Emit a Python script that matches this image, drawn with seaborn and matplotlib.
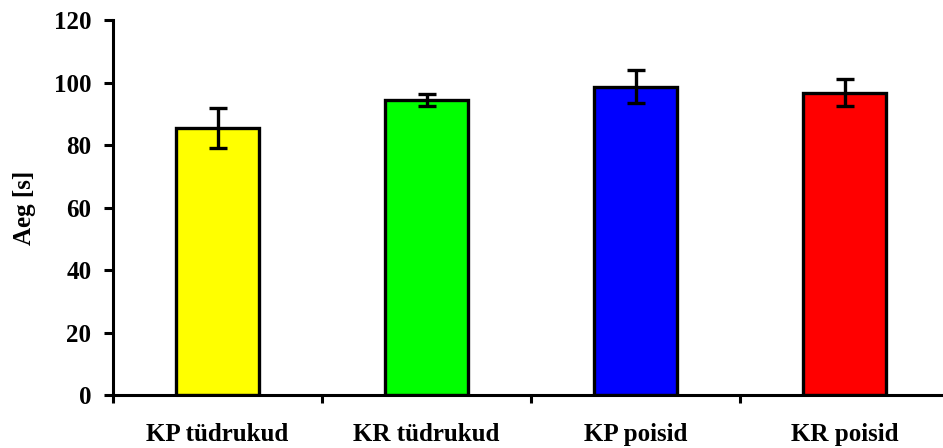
import numpy as np
import pandas as pd
import matplotlib
matplotlib.use("Agg")
import matplotlib.pyplot as plt
import seaborn as sns

groups = ["KP tüdrukud", "KR tüdrukud", "KP poisid", "KR poisid"]
means = [85.3, 94.4, 98.7, 96.8]
errors = [6.4, 1.9, 5.4, 4.2]
colors = ["#FFFF00", "#00FF00", "#0000FF", "#FF0000"]

df = pd.DataFrame({"group": groups, "aeg": means})

sns.set_style("ticks")
plt.rcParams["font.family"] = ["Liberation Serif", "DejaVu Serif"]
plt.rcParams["font.weight"] = "bold"
plt.rcParams["text.color"] = "black"
plt.rcParams["axes.labelcolor"] = "black"
plt.rcParams["xtick.color"] = "black"
plt.rcParams["ytick.color"] = "black"

fig = plt.figure(figsize=(9.43, 4.48), dpi=100)
ax = fig.add_axes([113 / 943, 1 - 395 / 448, 836 / 943, 375 / 448])

sns.barplot(data=df, x="group", y="aeg", hue="group", palette=colors,
            width=0.4, edgecolor="black", linewidth=2.4, errorbar=None,
            legend=False, ax=ax, saturation=1)
ax.errorbar(np.arange(len(groups)), means, yerr=errors, fmt="none",
            ecolor="black", elinewidth=2.4, capsize=6.5, capthick=2.4)

ax.set_xlim(-0.5, 3.5)
ax.set_ylim(0, 120)
ax.set_yticks(np.arange(0, 121, 20))
ax.set_xticks(np.arange(-0.5, 3.6, 1), minor=True)
ax.tick_params(axis="x", which="major", length=0, pad=20, labelsize=18,
               labelcolor="black")
ax.tick_params(axis="x", which="minor", length=6, width=2.2, direction="out",
               color="black")
ax.tick_params(axis="y", length=6.5, width=2.2, direction="out", labelsize=18,
               pad=9, color="black", labelcolor="black")
for lab in ax.get_xticklabels() + ax.get_yticklabels():
    lab.set_fontweight("bold")

for s in ["top", "right"]:
    ax.spines[s].set_visible(False)
for s in ["left", "bottom"]:
    ax.spines[s].set_linewidth(2.2)
    ax.spines[s].set_color("black")

ax.set_xlabel("")
ax.set_ylabel("Aeg [s]", fontsize=18, fontweight="bold", labelpad=13,
              color="black")

fig.savefig("out.png", dpi=100)
